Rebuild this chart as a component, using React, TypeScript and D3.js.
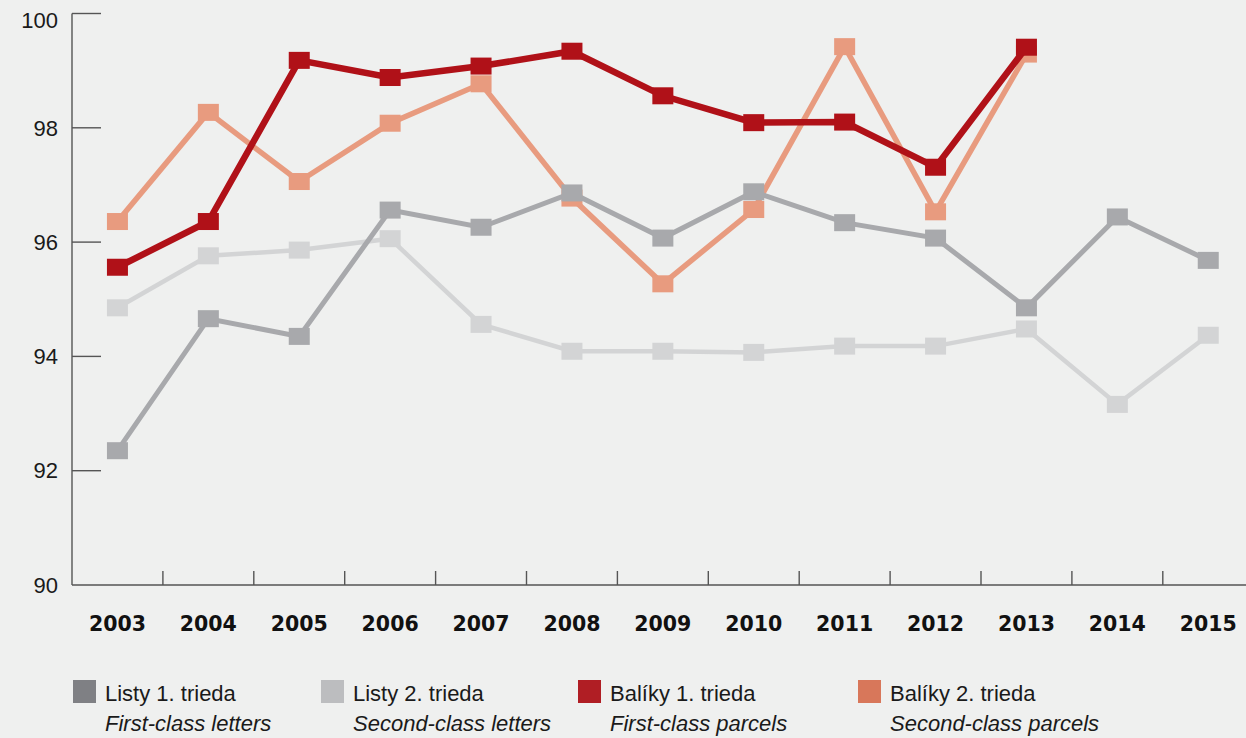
import { useEffect } from "react";
import * as d3 from "d3";

const W = 1246;
const H = 738;
const MARGIN = { top: 13.5, left: 72, bottom: 153 };
const STEP = 90.9;

const years = ["2003", "2004", "2005", "2006", "2007", "2008", "2009", "2010", "2011", "2012", "2013", "2014", "2015"];
const yTicks = [90, 92, 94, 96, 98, 100];

const firstLetters = [92.35, 94.66, 94.35, 96.56, 96.26, 96.86, 96.07, 96.88, 96.34, 96.07, 94.85, 96.44, 95.68];
const secondLetters = [94.85, 95.76, 95.86, 96.06, 94.56, 94.09, 94.09, 94.07, 94.18, 94.18, 94.48, 93.16, 94.37];
const firstParcels = [95.56, 96.36, 99.18, 98.88, 99.08, 99.34, 98.56, 98.09, 98.1, 97.31, 99.41, null, null];
const secondParcels = [96.36, 98.27, 97.06, 98.08, 98.77, 96.77, 95.27, 96.57, 99.42, 96.53, 99.29, null, null];

// drawing order: light grey, salmon, dark grey, dark red on top
const series = [
  { key: "l2", values: secondLetters, line: "#d3d4d5", width: 4.5 },
  { key: "p2", values: secondParcels, line: "#e89b7f", width: 5.5 },
  { key: "l1", values: firstLetters, line: "#a8a9ac", width: 5 },
  { key: "p1", values: firstParcels, line: "#b01118", width: 6.5 },
];

const legend = [
  { sk: "Listy 1. trieda", en: "First-class letters", color: "#7f8084", x: 73 },
  { sk: "Listy 2. trieda", en: "Second-class letters", color: "#bcbdbf", x: 321 },
  { sk: "Balíky 1. trieda", en: "First-class parcels", color: "#b01e24", x: 578 },
  { sk: "Balíky 2. trieda", en: "Second-class parcels", color: "#d8775a", x: 858 },
];

const FONT = "'Liberation Sans', Arial, sans-serif";

export default function App() {
  useEffect(() => {
    document.body.style.margin = "0";
    document.body.style.background = "#eff0ef";
  }, []);

  const x = d3
    .scaleBand<string>()
    .domain(years)
    .range([MARGIN.left, MARGIN.left + STEP * years.length])
    .padding(0);
  const y = d3.scaleLinear().domain([90, 100]).range([H - MARGIN.bottom, MARGIN.top]);
  const cx = (yr: string) => (x(yr) ?? 0) + x.bandwidth() / 2;

  const line = d3
    .line<number | null>()
    .defined((d) => d != null)
    .x((_, i) => cx(years[i]))
    .y((d) => y(d as number));

  const axisY = y(90);

  return (
    <svg width={W} height={H} style={{ display: "block", background: "#eff0ef" }}>
      <rect x={0} y={0} width={W} height={H} fill="#eff0ef" />

      {/* y axis */}
      <line x1={MARGIN.left} x2={MARGIN.left} y1={y(100)} y2={axisY} stroke="#555" strokeWidth={1.4} />
      {yTicks.map((t) => (
        <g key={t}>
          {t !== 90 && (
            <line x1={MARGIN.left} x2={MARGIN.left + 29} y1={y(t)} y2={y(t)} stroke="#555" strokeWidth={1.4} />
          )}
          <text
            x={58}
            y={Math.max(y(t), 20)}
            dy="0.35em"
            textAnchor="end"
            fontFamily={FONT}
            fontSize={22}
            fill="#1a1a1a"
          >
            {t}
          </text>
        </g>
      ))}

      {/* x axis */}
      <line x1={MARGIN.left} x2={W} y1={axisY} y2={axisY} stroke="#555" strokeWidth={1.4} />
      {years.slice(1).map((yr) => (
        <line key={yr} x1={x(yr)} x2={x(yr)} y1={axisY} y2={axisY - 14} stroke="#555" strokeWidth={1.4} />
      ))}
      {years.map((yr) => (
        <text
          key={yr}
          x={cx(yr)}
          y={631}
          textAnchor="middle"
          fontFamily="'DejaVu Sans', sans-serif"
          fontWeight="bold"
          fontSize={20.5}
          fill="#111"
        >
          {yr}
        </text>
      ))}

      {/* series */}
      {series.map((s) => (
        <g key={s.key}>
          <path d={line(s.values) ?? ""} fill="none" stroke={s.line} strokeWidth={s.width} strokeLinejoin="miter" />
          {s.values.map((v, i) =>
            v == null ? null : (
              <rect key={i} x={cx(years[i]) - 10.5} y={y(v) - 8.5} width={21} height={17} fill={s.line} />
            )
          )}
        </g>
      ))}

      {/* legend */}
      {legend.map((l) => (
        <g key={l.sk}>
          <rect x={l.x} y={680} width={23} height={23} fill={l.color} />
          <text x={l.x + 32} y={701} fontFamily={FONT} fontSize={22} fill="#1a1a1a">
            {l.sk}
          </text>
          <text x={l.x + 32} y={731} fontFamily={FONT} fontSize={22} fontStyle="italic" fill="#1a1a1a">
            {l.en}
          </text>
        </g>
      ))}
    </svg>
  );
}
